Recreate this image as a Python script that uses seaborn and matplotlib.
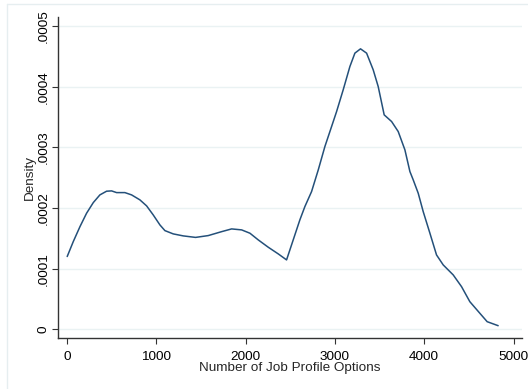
import matplotlib
matplotlib.use("Agg")
import matplotlib.pyplot as plt
import seaborn as sns
import pandas as pd
from matplotlib.lines import Line2D

# Kernel density estimate of the number of job profile options
options = [3, 71, 146, 220, 295, 369, 444, 500, 556, 649, 724, 817, 892,
           966, 1041, 1097, 1190, 1302, 1440, 1582, 1732, 1844, 1956, 2049,
           2142, 2254, 2366, 2459, 2552, 2608, 2664, 2739, 2814, 2888, 2963,
           3019, 3093, 3168, 3224, 3287, 3355, 3429, 3485, 3552, 3635, 3709,
           3784, 3840, 3877, 3933, 3989, 4064, 4138, 4213, 4325, 4418, 4511,
           4623, 4705, 4828]
density = [0.0001200, 0.0001446, 0.0001693, 0.0001914, 0.0002089, 0.0002216,
           0.0002277, 0.0002282, 0.0002254, 0.0002254, 0.0002216, 0.0002134,
           0.0002035, 0.0001886, 0.0001721, 0.0001627, 0.0001573, 0.0001540,
           0.0001515, 0.0001545, 0.0001610, 0.0001655, 0.0001639, 0.0001584,
           0.0001474, 0.0001353, 0.0001243, 0.0001144, 0.0001556, 0.0001804,
           0.0002023, 0.0002271, 0.0002629, 0.0003013, 0.0003343, 0.0003590,
           0.0003949, 0.0004333, 0.0004554, 0.0004625, 0.0004554, 0.0004279,
           0.0004003, 0.0003536, 0.0003426, 0.0003261, 0.0002959, 0.0002601,
           0.0002464, 0.0002244, 0.0001940, 0.0001584, 0.0001226, 0.0001061,
           0.0000896, 0.0000703, 0.0000455, 0.0000264, 0.0000125, 0.0000059]

x_ticks = [0, 1000, 2000, 3000, 4000, 5000]
y_ticks = [0, 0.0001, 0.0002, 0.0003, 0.0004, 0.0005]
y_tick_labels = ["0", ".0001", ".0002", ".0003", ".0004", ".0005"]

df = pd.DataFrame({"options": options, "density": density})

sns.set_theme(style="white")
plt.rcParams["font.family"] = ["Liberation Sans", "DejaVu Sans"]

fig = plt.figure(figsize=(5.28, 3.89), dpi=100)
ax = fig.add_axes([58 / 528, 1 - 338 / 389, (522 - 58) / 528, (338 - 17) / 389])

sns.lineplot(data=df, x="options", y="density", ax=ax, color="#24507a",
             linewidth=1.1, sort=False)

ax.set_xlim(-100, 5095)
ax.set_ylim(-0.0000144, 0.000515)
ax.set_xticks(x_ticks)
ax.set_xticklabels([str(t) for t in x_ticks], fontsize=9.7)
ax.set_yticks(y_ticks)
ax.set_yticklabels(y_tick_labels, fontsize=9.7, rotation=90, va="center")

ax.grid(axis="y", color="#eaf2f3", linewidth=1.0)
ax.grid(axis="x", visible=False)
ax.set_axisbelow(True)

for side in ("top", "right"):
    ax.spines[side].set_visible(False)
for side in ("left", "bottom"):
    ax.spines[side].set_color("#333333")
    ax.spines[side].set_linewidth(1.0)

ax.tick_params(axis="both", which="major", direction="out", length=4,
               width=0.8, color="#333333", labelcolor="black", pad=2,
               bottom=True, left=True)
ax.tick_params(axis="x", pad=5)

ax.set_xlabel("Number of Job Profile Options", fontsize=9.7, labelpad=0)
ax.set_ylabel("Density", fontsize=9.7, labelpad=1)

# light outer frame of the graph region
fig.add_artist(Line2D([6.5 / 528, 1], [1 - 4 / 389, 1 - 4 / 389],
                      transform=fig.transFigure, color="#e6eef0", linewidth=1))
fig.add_artist(Line2D([6.5 / 528, 6.5 / 528], [0, 1 - 4 / 389],
                      transform=fig.transFigure, color="#e6eef0", linewidth=1))

fig.savefig("out.png", dpi=100, facecolor="white")
